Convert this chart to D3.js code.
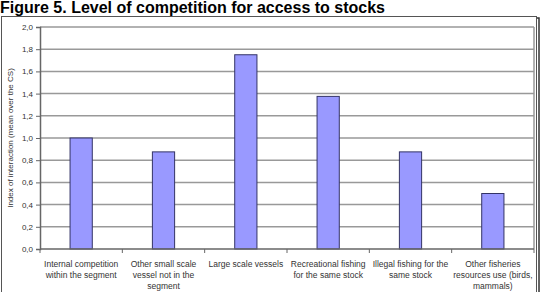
<!DOCTYPE html>
<html>
<head>
<meta charset="utf-8">
<script src="https://cdn.jsdelivr.net/npm/d3@7"></script>
<style>
  body { margin: 0; background: #fff; }
  svg { display: block; font-family: Arial, "Liberation Sans", sans-serif; }
</style>
</head>
<body>
<script>
var categories = [
  ["Internal competition", "within the segment"],
  ["Other small scale", "vessel not in the", "segment"],
  ["Large scale vessels"],
  ["Recreational fishing", "for the same stock"],
  ["Illegal fishing for the", "same stock"],
  ["Other fisheries", "resources use (birds,", "mammals)"]
];
var values = [1.0, 0.875, 1.75, 1.375, 0.875, 0.5];
var yTicks = [0, 0.2, 0.4, 0.6, 0.8, 1.0, 1.2, 1.4, 1.6, 1.8, 2.0];

var W = 541, H = 292;
var margin = {top: 27, right: 7, bottom: 43, left: 40}
  , width = W - margin.left - margin.right
  , height = H - margin.top - margin.bottom;

var svg = d3.select("body").append("svg")
    .attr("width", W)
    .attr("height", H);

// title
svg.append("text")
    .attr("x", 0)
    .attr("y", 13)
    .attr("font-size", "16px")
    .attr("font-weight", "bold")
    .attr("fill", "#000")
    .text("Figure 5. Level of competition for access to stocks");

// outer frame with shadow
svg.append("rect")
    .attr("x", 3).attr("y", 18)
    .attr("width", 536).attr("height", 290)
    .attr("fill", "none").attr("stroke", "#333").attr("stroke-width", 1.5);
svg.append("rect")
    .attr("x", 1.5).attr("y", 16.5)
    .attr("width", 535).attr("height", 290)
    .attr("fill", "#fff").attr("stroke", "#555").attr("stroke-width", 1);

var g = svg.append("g")
    .attr("transform", "translate(" + margin.left + "," + margin.top + ")");

var xScale = d3.scaleBand()
    .domain(d3.range(categories.length))
    .range([0, width])
    .paddingInner(0.73)
    .paddingOuter(0.365);

var xOuter = d3.scaleBand()
    .domain(d3.range(categories.length))
    .range([0, width]);

var yScale = d3.scaleLinear().domain([0, 2]).range([height, 0]);

// gridlines
g.selectAll(".grid")
    .data(yTicks.slice(1))
    .enter().append("line")
    .attr("x1", 0).attr("x2", width)
    .attr("y1", function(d) { return yScale(d); })
    .attr("y2", function(d) { return yScale(d); })
    .attr("stroke", "#999").attr("stroke-width", 1.5);

// plot area right border
g.append("line")
    .attr("x1", width).attr("x2", width)
    .attr("y1", 0).attr("y2", height)
    .attr("stroke", "#999").attr("stroke-width", 1.5);

// bars
g.selectAll(".bar")
    .data(values)
    .enter().append("rect")
    .attr("x", function(d, i) { return xScale(i); })
    .attr("y", function(d) { return yScale(d); })
    .attr("width", xScale.bandwidth())
    .attr("height", function(d) { return height - yScale(d); })
    .attr("fill", "#9999ff")
    .attr("stroke", "#333366")
    .attr("stroke-width", 1);

// y axis
var yAxis = g.append("g")
    .call(d3.axisLeft(yScale)
        .tickValues(yTicks)
        .tickSize(4)
        .tickFormat(function(d) { return d3.format(".1f")(d).replace(".", ","); }));
yAxis.select(".domain").attr("stroke", "#666").attr("stroke-width", 1.5);
yAxis.selectAll(".tick line").attr("stroke", "#666");
yAxis.selectAll(".tick text")
    .attr("font-size", "8px")
    .attr("fill", "#333")
    .attr("font-family", "Arial, 'Liberation Sans', sans-serif");

// x axis
var xAxis = g.append("g")
    .attr("transform", "translate(0," + height + ")");
xAxis.append("line")
    .attr("x1", 0).attr("x2", width)
    .attr("stroke", "#666").attr("stroke-width", 1.5);
xAxis.selectAll(".xtick")
    .data(d3.range(categories.length + 1))
    .enter().append("line")
    .attr("x1", function(d) { return d * xOuter.bandwidth(); })
    .attr("x2", function(d) { return d * xOuter.bandwidth(); })
    .attr("y1", 0).attr("y2", 4)
    .attr("stroke", "#666");

xAxis.selectAll(".xlabel")
    .data(categories)
    .enter().append("text")
    .attr("text-anchor", "middle")
    .attr("font-size", "8.5px")
    .attr("fill", "#333")
    .each(function(lines, i) {
        var t = d3.select(this);
        lines.forEach(function(s, j) {
            t.append("tspan")
                .attr("x", xOuter(i) + xOuter.bandwidth() / 2)
                .attr("y", 18 + j * 11)
                .text(s);
        });
    });

// y axis title
svg.append("text")
    .attr("transform", "translate(13," + (margin.top + height / 2) + ") rotate(-90)")
    .attr("text-anchor", "middle")
    .attr("font-size", "8px")
    .attr("fill", "#333")
    .text("Index of interaction (mean over the CS)");
</script>
</body>
</html>
